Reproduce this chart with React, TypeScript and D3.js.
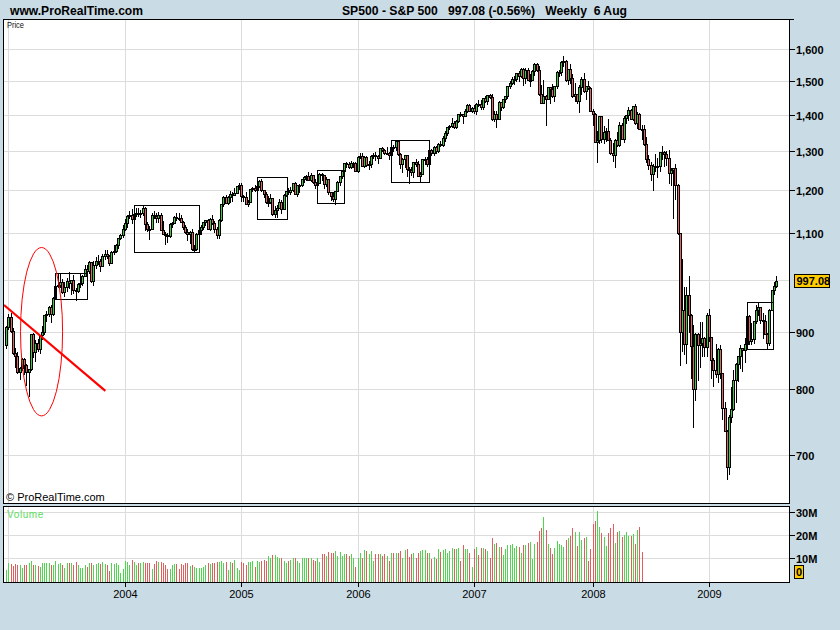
import React, { useEffect } from 'react';
import * as d3 from 'd3';

// ---------- DATA (weekly S&P 500 bars, first bar = week ending 3 Jan 2003) ----------
const firstOpen = 875.4;

const close2003 = [908.6,927.6,901.8,861.4,855.7,829.7,834.9,851.2,841.2,828.9,833.3,895.8,863.5,878.9,868.3,893.6,898.8,930.1,933.4,946.7,933.2,963.6,987.8,988.6,995.7,976.2,985.7,998.1,993.3,998.7,980.2,977.6,990.7,993.1,1008.0,1021.4,1018.6,1036.3,996.9,1029.9,1038.7,1039.3,1028.9,1050.7,1053.2,1050.4,1035.3,1058.2,1061.5,1074.1,1088.7,1095.9,1108.5];
const high2003 = [911,932,935,906,871,864,838,853,852,842,834,896,897,885,886,894,911,931,939,948,950,965,989,1012,1015,1002,995,1003,1016,999,1009,983,993,1011,1009,1030,1030,1040,1037,1039,1048,1052,1044,1054,1062,1063,1052,1060,1074,1075,1089,1098,1118];
const low2003 = [870,904,899,860,837,827,817,832,826,807,789,832,855,847,865,861,887,896,920,929,917,931,962,985,986,974,968,978,983,972,974,960,976,986,989,1008,1008,1014,995,990,1024,1033,1019,1028,1044,1045,1031,1035,1055,1059,1068,1087,1092];

const close2004 = [1121.9,1139.8,1141.6,1131.1,1142.8,1145.8,1144.1,1144.9,1156.9,1120.6,1109.8,1108.1,1141.8,1139.3,1134.6,1140.6,1107.3,1098.7,1095.7,1093.6,1120.7,1122.5,1136.5,1135.0,1134.4,1125.4,1112.8,1101.4,1096.8,1101.7,1064.0,1064.8,1098.4,1107.8,1113.6,1123.9,1128.6,1110.1,1131.5,1122.1,1108.2,1095.7,1130.2,1166.2,1184.2,1170.3,1182.7,1191.2,1188.0,1194.2,1210.1,1211.9];
const high2004 = [1131,1140,1150,1155,1143,1158,1157,1152,1163,1159,1125,1115,1145,1150,1146,1147,1145,1127,1102,1099,1123,1125,1138,1146,1146,1142,1127,1119,1109,1104,1108,1074,1100,1109,1119,1125,1130,1131,1134,1142,1128,1114,1131,1167,1185,1188,1186,1198,1197,1206,1211,1218];
const low2004 = [1106,1113,1135,1122,1124,1139,1139,1136,1142,1107,1104,1087,1108,1134,1126,1126,1107,1098,1076,1080,1091,1113,1122,1129,1130,1124,1110,1101,1084,1078,1063,1060,1063,1093,1098,1110,1118,1108,1107,1120,1102,1090,1090,1128,1162,1169,1167,1171,1173,1188,1194,1203];

const close2005 = [1186.2,1184.5,1167.9,1171.4,1203.0,1205.3,1201.6,1211.4,1222.1,1200.1,1190.2,1171.4,1172.9,1181.2,1142.6,1152.1,1156.9,1171.4,1154.1,1189.3,1198.8,1196.0,1200.9,1217.0,1191.6,1211.9,1211.9,1227.9,1233.7,1234.2,1226.4,1237.8,1219.7,1212.4,1218.0,1241.5,1237.9,1215.3,1228.8,1195.9,1186.6,1179.6,1198.4,1220.1,1234.7,1248.3,1268.3,1265.1,1259.4,1267.3,1268.7,1248.3];
const high2005 = [1217,1189,1196,1177,1204,1208,1212,1212,1225,1229,1201,1195,1187,1191,1182,1162,1164,1178,1177,1192,1199,1205,1207,1219,1220,1212,1215,1228,1236,1237,1245,1242,1237,1227,1222,1242,1244,1237,1233,1229,1197,1197,1199,1224,1235,1249,1269,1272,1270,1275,1272,1271];
const low2005 = [1173,1175,1167,1163,1171,1198,1199,1184,1207,1199,1184,1169,1163,1170,1141,1137,1137,1157,1146,1154,1185,1191,1191,1199,1191,1185,1195,1211,1220,1226,1225,1222,1218,1205,1202,1218,1226,1205,1210,1192,1176,1173,1168,1198,1214,1230,1246,1259,1255,1256,1259,1248];

const close2006 = [1285.4,1287.6,1261.5,1283.7,1264.0,1267.0,1287.2,1289.4,1287.2,1281.4,1307.3,1303.0,1294.8,1295.5,1289.1,1311.3,1310.6,1325.8,1291.2,1267.0,1280.2,1288.2,1252.3,1251.5,1244.5,1270.2,1265.5,1236.2,1240.3,1278.6,1279.4,1266.7,1302.3,1295.1,1311.0,1298.9,1319.9,1314.8,1335.9,1349.6,1365.6,1368.6,1377.3,1364.3,1380.9,1401.2,1401.0,1396.7,1409.8,1427.1,1410.8,1418.3];
const high2006 = [1287,1295,1294,1286,1287,1275,1289,1295,1297,1290,1308,1311,1306,1310,1298,1318,1316,1327,1326,1294,1281,1290,1288,1257,1258,1271,1280,1274,1246,1280,1284,1283,1303,1306,1312,1314,1321,1328,1340,1353,1366,1372,1389,1382,1384,1403,1407,1402,1415,1431,1430,1421];
const low2006 = [1245,1282,1260,1259,1261,1253,1258,1281,1277,1269,1281,1299,1291,1293,1280,1282,1299,1303,1290,1256,1245,1259,1235,1219,1237,1234,1261,1236,1224,1240,1266,1262,1266,1290,1290,1295,1298,1312,1314,1328,1344,1359,1366,1361,1363,1378,1397,1377,1397,1407,1410,1406];

const close2007 = [1409.7,1430.7,1430.5,1422.2,1448.4,1438.1,1455.5,1451.2,1387.2,1402.8,1387.0,1436.1,1420.9,1443.8,1452.9,1484.4,1494.1,1505.6,1505.9,1522.8,1515.7,1536.3,1507.7,1532.9,1502.6,1503.4,1530.4,1552.5,1534.1,1459.0,1433.1,1453.6,1445.9,1479.4,1474.0,1453.6,1484.3,1525.8,1526.8,1557.6,1561.8,1500.6,1535.3,1509.7,1453.7,1458.7,1440.7,1481.1,1504.7,1468.0,1484.5,1478.5,1411.6];
const high2007 = [1429,1432,1441,1441,1449,1453,1457,1461,1459,1410,1409,1438,1437,1444,1453,1485,1499,1510,1513,1523,1530,1540,1540,1538,1540,1521,1534,1556,1555,1547,1488,1503,1456,1481,1482,1489,1485,1530,1533,1561,1576,1563,1536,1553,1520,1492,1461,1488,1510,1523,1485,1498,1480];
const low2007 = [1404,1403,1424,1416,1416,1437,1431,1448,1384,1382,1364,1387,1413,1420,1436,1449,1477,1489,1491,1498,1500,1512,1487,1492,1502,1484,1503,1517,1529,1458,1432,1434,1371,1445,1432,1452,1439,1478,1515,1518,1546,1500,1491,1492,1451,1439,1434,1406,1460,1467,1446,1474,1411];

const close2008 = [1401.0,1325.2,1330.6,1395.4,1331.3,1350.0,1353.1,1330.6,1293.4,1288.1,1329.5,1315.2,1370.4,1332.8,1390.3,1397.8,1413.9,1388.3,1425.4,1375.9,1400.4,1360.7,1360.0,1317.9,1278.4,1262.9,1239.5,1260.7,1257.8,1260.3,1296.3,1298.2,1292.2,1282.8,1242.3,1251.7,1255.1,1213.3,1099.2,899.2,940.6,876.8,968.8,931.0,873.3,800.0,896.2,876.1,879.7,887.9,872.8,931.8];
const high2008 = [1416,1404,1355,1396,1397,1368,1361,1388,1334,1321,1331,1351,1380,1375,1395,1399,1422,1416,1426,1431,1406,1405,1371,1370,1338,1290,1272,1266,1292,1282,1298,1314,1300,1300,1303,1256,1256,1265,1215,1100,1044,985,985,1007,932,913,897,897,918,918,890,934];
const low2008 = [1370,1324,1270,1322,1324,1321,1326,1329,1291,1274,1257,1313,1312,1331,1324,1376,1385,1387,1385,1374,1362,1359,1332,1317,1272,1253,1225,1200,1248,1234,1247,1278,1262,1263,1217,1212,1134,1180,1098,840,865,859,845,899,818,741,783,815,837,857,857,856];

const close2009 = [890.4,850.1,832.0,825.9,868.6,826.8,770.1,735.1,683.4,756.6,768.5,815.9,842.5,856.6,869.6,866.2,877.5,929.2,882.9,887.0,919.1,940.1,946.2,921.2,918.9,896.4,879.1,940.4,979.3,987.5,997.08];
const high2009 = [943,891,852,877,870,876,827,780,736,759,804,832,845,857,875,871,888,930,930,915,920,951,956,945,934,931,898,943,980,996,1008];
const low2009 = [883,818,805,821,812,818,754,735,667,673,748,767,779,814,836,830,846,875,878,878,880,916,930,916,888,896,870,875,941,972,986];

// weekly volume (millions), only available up to mid-June 2008
const vol2003 = [4.9,7.9,7.4,6.7,7.4,7.1,7.0,6.0,7.0,7.0,8.1,8.7,7.0,7.0,6.7,6.1,7.9,7.9,7.9,7.9,7.3,7.0,8.7,7.4,7.9,7.3,5.9,7.9,8.1,7.9,7.3,8.4,7.3,5.9,5.9,7.3,6.4,7.9,8.1,7.3,7.6,7.9,7.4,8.3,7.6,7.3,4.6,7.9,7.6,8.0,7.0,3.6,5.3];
const vol2004 = [8.9,8.4,7.0,9.3,8.4,7.0,7.9,7.9,8.4,7.9,7.9,7.9,5.6,7.4,8.7,8.4,8.4,7.9,7.0,5.3,5.3,7.3,7.4,7.4,5.3,7.6,7.0,7.9,7.9,6.7,7.3,6.4,5.9,5.9,5.9,6.4,7.0,7.9,7.4,8.0,7.9,8.4,8.4,8.7,7.9,8.4,4.9,8.4,7.9,9.1,5.9,4.9];
const vol2005 = [8.4,7.9,7.0,8.4,8.4,8.7,6.4,8.9,8.4,8.9,9.3,8.9,11.0,10.3,11.4,11.3,10.6,10.3,10.3,8.9,8.1,8.9,9.3,10.0,10.0,8.9,7.9,10.0,10.0,10.0,10.0,10.0,9.1,8.9,10.3,8.4,11.7,11.7,11.0,12.7,12.4,12.4,13.0,11.0,12.7,11.0,11.7,11.7,11.0,11.7,10.1,6.1];
const vol2006 = [10.1,12.1,10.3,13.4,13.0,12.0,13.0,8.9,11.7,11.7,11.7,11.0,11.7,11.0,8.7,12.1,12.4,12.4,12.4,13.3,10.3,13.6,14.1,10.7,11.7,12.4,10.1,12.4,13.0,13.4,13.4,12.1,12.1,9.6,10.6,9.6,13.9,12.7,13.4,13.9,12.1,13.0,14.3,13.9,13.9,14.4,8.7,15.6,13.9,13.9,12.1,6.4];
const vol2007 = [14.1,14.9,11.3,14.3,14.3,13.9,13.0,10.1,18.6,16.1,16.7,15.1,15.0,11.3,13.9,15.6,15.6,16.0,14.4,15.3,15.0,12.1,15.6,15.6,16.7,17.0,9.6,16.1,17.0,21.6,23.3,27.7,22.4,16.0,14.4,11.7,14.6,17.4,16.1,15.6,15.0,18.1,18.9,19.6,22.9,21.3,15.3,21.3,17.9,18.9,19.4,8.9,13.9];
const vol2008 = [24.7,26.0,30.6,23.4,20.9,19.4,15.3,20.9,23.0,24.7,16.7,21.3,21.6,19.0,19.9,21.3,19.6,19.6,20.4,16.1,22.1,23.4,12.7];

const priceTicks = [700, 800, 900, 1000, 1100, 1200, 1300, 1400, 1500, 1600];
const labelledPriceTicks = [700, 800, 900, 1100, 1200, 1300, 1400, 1500, 1600];
const volumeTicks = [10, 20, 30];
const lastPrice = 997.08;
const siteTitle = 'www.ProRealTime.com';
const chartTitle = 'SP500 - S&P 500   997.08 (-0.56%)   Weekly  6 Aug';

// hand-drawn annotations, in data units (bar index, price)
const boxes = [
  { i0: 21.8, i1: 36.2, p0: 1014, p1: 962 },
  { i0: 57.2, i1: 86.3, p0: 1165, p1: 1059 },
  { i0: 112.2, i1: 125.3, p0: 1234, p1: 1132 },
  { i0: 139.0, i1: 151.1, p0: 1251, p1: 1170 },
  { i0: 172.1, i1: 189.1, p0: 1330, p1: 1220 },
  { i0: 331.1, i1: 342.7, p0: 956, p1: 868 },
];
const ellipseAnn = { i0: 6.4, i1: 25.2, p0: 1068, p1: 758 };
const lineAnn = { i0: -1.0, p0: 950, i1: 44.3, p1: 797.6 };

// ---------- LAYOUT ----------
const W = 840;
const H = 630;
const L = 3.5;
const R = 789.5;
const PT = 19.5;
const PB = 503.5;
const VT = 506.5;
const VB = 582.5;
const GREEN = '#3ccc3c';
const RED = '#e06464';
const VGREEN = '#4fd64f';
const VRED = '#e25e5e';
const GRID = '#dcdcdc';
const FONT = '"Liberation Sans", Arial, Helvetica, sans-serif';
const NARROW = '"Liberation Sans Narrow", "Arial Narrow", "Liberation Sans", Arial, sans-serif';

export default function App() {
  useEffect(() => {
    document.body.style.margin = '0';
    document.body.style.background = '#c9dbe5';
  }, []);

  const close = [...close2003, ...close2004, ...close2005, ...close2006, ...close2007, ...close2008, ...close2009];
  const high = [...high2003, ...high2004, ...high2005, ...high2006, ...high2007, ...high2008, ...high2009];
  const low = [...low2003, ...low2004, ...low2005, ...low2006, ...low2007, ...low2008, ...low2009];
  const vol = [...vol2003, ...vol2004, ...vol2005, ...vol2006, ...vol2007, ...vol2008];
  const n = close.length;

  const bars = close.map((c, i) => {
    const o = i === 0 ? firstOpen : close[i - 1];
    return { i, o, c, h: Math.max(high[i], o, c), l: Math.min(low[i], o, c) };
  });

  const x = d3.scaleLinear().domain([0, n - 1]).range([6.2, 776]);
  const y = d3.scaleLog().domain([1600, 700]).range([49, 455]);
  const yv = d3.scaleLinear().domain([0, 30]).range([581.5, 512]);

  // week i starts Monday 30 Dec 2002 + 7i; year gridline at first bar whose Monday is in a new year
  const monday0 = new Date(2002, 11, 30);
  const yearLines: { i: number; year: number }[] = [];
  let prevYear = 2002;
  for (let i = 0; i < n; i++) {
    const d = d3.timeDay.offset(monday0, 7 * i);
    const yr = d.getFullYear();
    if (yr !== prevYear) {
      yearLines.push({ i, year: yr });
      prevYear = yr;
    }
  }
  const labelledYears = yearLines.filter((d) => d.year > 2003);

  const px = (i: number) => Math.round(x(i));
  const py = (p: number) => Math.round(y(p));

  const fmt = d3.format(',');

  return (
    <svg width={W} height={H} style={{ position: 'absolute', left: 0, top: 0, display: 'block' }}>
      <rect x={0} y={0} width={W} height={H} fill="#c9dbe5" />

      {/* header */}
      <text x={10} y={15} fontFamily={NARROW} fontWeight="bold" fontSize={12.5} textLength={133} lengthAdjust="spacingAndGlyphs">{siteTitle}</text>
      <text x={342} y={15} fontFamily={NARROW} fontWeight="bold" fontSize={12.5} textLength={285} lengthAdjust="spacingAndGlyphs" style={{ whiteSpace: 'pre' }}>{chartTitle}</text>

      {/* price panel */}
      <rect x={L} y={PT} width={R - L} height={PB - PT} fill="#ffffff" />
      <g shapeRendering="crispEdges">
        {priceTicks.map((p) => (
          <line key={'hg' + p} x1={L} x2={R} y1={py(p) + 0.5} y2={py(p) + 0.5} stroke={GRID} />
        ))}
        {yearLines.map((d) => (
          <line key={'vg' + d.year} x1={px(d.i) + 0.5} x2={px(d.i) + 0.5} y1={PT} y2={PB} stroke={GRID} />
        ))}
      </g>

      <text x={7} y={28} fontFamily={FONT} fontSize={9} textLength={17} lengthAdjust="spacingAndGlyphs" fill="#111">Price</text>

      {/* candles */}
      <g shapeRendering="crispEdges">
        {bars.map((b) => {
          const X = px(b.i);
          const top = py(Math.max(b.o, b.c));
          const bot = py(Math.min(b.o, b.c));
          return (
            <g key={'c' + b.i}>
              <line x1={X + 0.5} x2={X + 0.5} y1={py(b.h)} y2={py(b.l) + 1} stroke="#000" />
              <rect x={X - 0.5} y={top + 0.5} width={2} height={Math.max(1, bot - top)} fill={b.c >= b.o ? GREEN : RED} stroke="#000" strokeWidth={1} />
            </g>
          );
        })}
      </g>

      {/* annotations */}
      <g fill="none">
        {boxes.map((bx, k) => (
          <rect key={'bx' + k} x={Math.round(x(bx.i0)) + 0.5} y={py(bx.p0) + 0.5} width={Math.round(x(bx.i1)) - Math.round(x(bx.i0))} height={py(bx.p1) - py(bx.p0)} stroke="#000" strokeWidth={1.2} shapeRendering="crispEdges" />
        ))}
        <ellipse
          cx={(x(ellipseAnn.i0) + x(ellipseAnn.i1)) / 2}
          cy={(y(ellipseAnn.p0) + y(ellipseAnn.p1)) / 2}
          rx={(x(ellipseAnn.i1) - x(ellipseAnn.i0)) / 2}
          ry={(y(ellipseAnn.p1) - y(ellipseAnn.p0)) / 2}
          stroke="#ff0000"
          strokeWidth={1}
        />
        <line x1={x(lineAnn.i0)} y1={y(lineAnn.p0)} x2={x(lineAnn.i1)} y2={y(lineAnn.p1)} stroke="#ff0000" strokeWidth={2.2} />
      </g>

      <text x={6} y={501} fontFamily={FONT} fontSize={11} fill="#000">© ProRealTime.com</text>
      <rect x={L} y={PT} width={R - L} height={PB - PT} fill="none" stroke="#000" shapeRendering="crispEdges" />

      {/* price axis */}
      <g shapeRendering="crispEdges">
        <line x1={R} x2={794} y1={PT} y2={PT} stroke="#000" />
        {labelledPriceTicks.map((p) => (
          <line key={'pt' + p} x1={R} x2={794.5} y1={py(p) + 0.5} y2={py(p) + 0.5} stroke="#000" />
        ))}
      </g>
      {labelledPriceTicks.map((p) => (
        <text key={'pl' + p} x={796} y={py(p) + 4.5} fontFamily={FONT} fontWeight="bold" fontSize={11} fill="#000">{fmt(p)}</text>
      ))}
      <rect x={794.5} y={Math.round(y(lastPrice)) - 6.5} width={35} height={13} fill="#ffcc00" stroke="#000" shapeRendering="crispEdges" />
      <text x={796.5} y={Math.round(y(lastPrice)) + 4} fontFamily={FONT} fontWeight="bold" fontSize={11} fill="#000">{lastPrice.toFixed(2)}</text>

      {/* volume panel */}
      <rect x={L} y={VT} width={R - L} height={VB - VT} fill="#ffffff" />
      <g shapeRendering="crispEdges">
        {volumeTicks.map((v) => (
          <line key={'vh' + v} x1={L} x2={R} y1={Math.round(yv(v)) + 0.5} y2={Math.round(yv(v)) + 0.5} stroke={GRID} />
        ))}
        {yearLines.map((d) => (
          <line key={'vv' + d.year} x1={px(d.i) + 0.5} x2={px(d.i) + 0.5} y1={VT} y2={VB} stroke={GRID} />
        ))}
        {vol.map((v, i) => (
          <rect key={'v' + i} x={px(i)} y={Math.round(yv(v))} width={1} height={Math.round(yv(0)) - Math.round(yv(v))} fill={bars[i].c >= bars[i].o ? VGREEN : VRED} />
        ))}
      </g>
      <text x={7} y={518} fontFamily={FONT} fontSize={10} fill="#5cdc5c" letterSpacing={0.6}>Volume</text>
      <rect x={L} y={VT} width={R - L} height={VB - VT} fill="none" stroke="#000" shapeRendering="crispEdges" />

      <g shapeRendering="crispEdges">
        {volumeTicks.map((v) => (
          <line key={'vt' + v} x1={R} x2={794.5} y1={Math.round(yv(v)) + 0.5} y2={Math.round(yv(v)) + 0.5} stroke="#000" />
        ))}
      </g>
      {volumeTicks.map((v) => (
        <text key={'vl' + v} x={796} y={Math.round(yv(v)) + 4.5} fontFamily={FONT} fontWeight="bold" fontSize={11} fill="#000">{v + 'M'}</text>
      ))}
      <rect x={794.5} y={565.5} width={9} height={13} fill="#ffcc00" stroke="#000" shapeRendering="crispEdges" />
      <text x={796} y={576} fontFamily={FONT} fontWeight="bold" fontSize={11} fill="#000">0</text>

      {/* time axis */}
      <g shapeRendering="crispEdges">
        {labelledYears.map((d) => (
          <line key={'xt' + d.year} x1={px(d.i) + 0.5} x2={px(d.i) + 0.5} y1={VB} y2={587} stroke="#000" />
        ))}
      </g>
      {labelledYears.map((d) => (
        <text key={'xl' + d.year} x={px(d.i) + 0.5} y={598} textAnchor="middle" fontFamily={FONT} fontSize={11} fill="#000">{d.year}</text>
      ))}
    </svg>
  );
}
